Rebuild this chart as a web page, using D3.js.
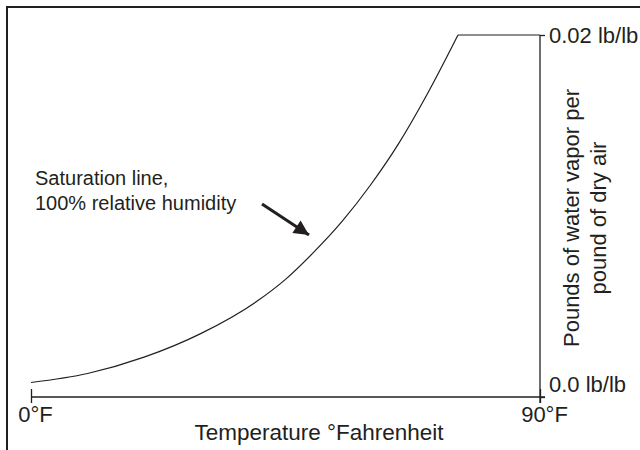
<!DOCTYPE html>
<html>
<head>
<meta charset="utf-8">
<script src="https://cdnjs.cloudflare.com/ajax/libs/d3/7.8.5/d3.min.js"></script>
<style>
  body { margin: 0; background: #fff; }
  svg text { font-family: "Liberation Sans", Arial, sans-serif; fill: #231f20; }
</style>
</head>
<body>
<script>
var width = 640, height = 450;
var ink = "#231f20";

// saturation curve
var temps  = [0, 10, 20, 30, 40, 45, 50, 55, 60, 65, 70, 75.5];
var ratios = [0.0008, 0.0013, 0.0022, 0.0035, 0.0053, 0.0065, 0.0080, 0.0097, 0.0117, 0.0140, 0.0167, 0.0200];
var capTemp = 90;          // flat part runs to the end of the axis
var xTicks = [0, 90];
var xTickLabels = ["0°F", "90°F"];
var yTicks = [0, 0.02];
var yTickLabels = ["0.0 lb/lb", "0.02 lb/lb"];

var svg = d3.select("body").append("svg")
    .attr("width", width)
    .attr("height", height);

// frame on top and left
svg.append("path")
    .attr("d", "M7,450V7H640")
    .attr("fill", "none")
    .attr("stroke", ink)
    .attr("stroke-width", 2);

var x = d3.scaleLinear().domain([0, 90]).range([31, 540]);
var y = d3.scaleLinear().domain([0, 0.02]).range([397, 35]);

// x axis
var xAxis = svg.append("g")
    .attr("transform", "translate(0," + y(0) + ")")
    .call(d3.axisBottom(x).tickValues(xTicks).tickSizeInner(6).tickSizeOuter(0).tickPadding(3)
        .tickFormat(function(d, i) { return xTickLabels[i]; }));
xAxis.select(".domain").remove();
xAxis.append("line")
    .attr("x1", x(0)).attr("x2", x(90) + 5)
    .attr("stroke", ink).attr("stroke-width", 1.3);
xAxis.selectAll(".tick line").attr("y1", -8).attr("stroke", ink).attr("stroke-width", 1.3);
xAxis.selectAll(".tick text")
    .attr("dx", 4)
    .style("font-size", "22px")
    .style("font-family", "Liberation Sans, Arial, sans-serif")
    .attr("fill", ink);

// y axis on the right
var yAxis = svg.append("g")
    .attr("transform", "translate(" + x(90) + ",0)")
    .call(d3.axisRight(y).tickValues(yTicks).tickSizeInner(5).tickSizeOuter(0).tickPadding(4)
        .tickFormat(function(d, i) { return yTickLabels[i]; }));
yAxis.select(".domain").remove();
yAxis.append("line")
    .attr("y1", y(0.02)).attr("y2", y(0) + 6)
    .attr("stroke", ink).attr("stroke-width", 1.3);
yAxis.selectAll(".tick line").attr("stroke", ink).attr("stroke-width", 1.3);
yAxis.selectAll(".tick text")
    .style("font-size", "22px")
    .style("font-family", "Liberation Sans, Arial, sans-serif")
    .attr("fill", ink);
// the zero label sits above the x axis line
yAxis.selectAll(".tick text").filter(function(d) { return d === 0; })
    .attr("dy", "-0.25em");

// saturation curve
var pts = temps.map(function(t, i) { return [t, ratios[i]]; });
var line = d3.line()
    .x(function(d) { return x(d[0]); })
    .y(function(d) { return y(d[1]); });

svg.append("path")
    .datum(pts)
    .attr("d", line.curve(d3.curveMonotoneX))
    .attr("fill", "none")
    .attr("stroke", ink)
    .attr("stroke-width", 1.2);

svg.append("path")
    .datum([pts[pts.length - 1], [capTemp, ratios[ratios.length - 1]]])
    .attr("d", line.curve(d3.curveLinear))
    .attr("fill", "none")
    .attr("stroke", ink)
    .attr("stroke-width", 1.2);

// axis titles
svg.append("text")
    .attr("x", 319)
    .attr("y", 440)
    .attr("text-anchor", "middle")
    .style("font-size", "22.5px")
    .text("Temperature °Fahrenheit");

var yTitle = svg.append("text")
    .attr("text-anchor", "middle")
    .attr("transform", "translate(579,218)rotate(-90)")
    .style("font-size", "22px");
yTitle.append("tspan").attr("x", 0).attr("y", 0).text("Pounds of water vapor per");
yTitle.append("tspan").attr("x", 0).attr("y", 27).text("pound of dry air");

// annotation
var note = svg.append("text")
    .style("font-size", "20px");
note.append("tspan").attr("x", 35).attr("y", 185).text("Saturation line,");
note.append("tspan").attr("x", 35).attr("y", 210).text("100% relative humidity");

svg.append("defs").append("marker")
    .attr("id", "head")
    .attr("viewBox", "0 0 10 10")
    .attr("refX", 10).attr("refY", 5)
    .attr("markerWidth", 6).attr("markerHeight", 5)
    .attr("markerUnits", "strokeWidth")
    .attr("orient", "auto")
  .append("path")
    .attr("d", "M0,0L10,5L0,10Z")
    .attr("fill", ink);

svg.append("line")
    .attr("x1", 262).attr("y1", 204)
    .attr("x2", 309).attr("y2", 235)
    .attr("stroke", ink)
    .attr("stroke-width", 3)
    .attr("marker-end", "url(#head)");
</script>
</body>
</html>
